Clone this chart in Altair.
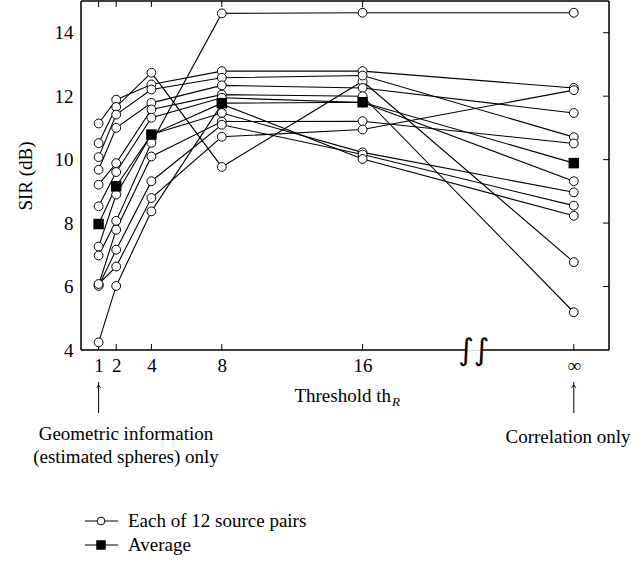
import altair as alt
import pandas as pd

FONT = "Liberation Serif"
FS = 19

# x positions of the thresholds (infinity drawn at 28 after an axis break)
x_pos = [1, 2, 4, 8, 16, 28]
x_labels = ["1", "2", "4", "8", "16", "∞"]
y_ticks = [4, 6, 8, 10, 12, 14]

# SIR (dB) for each of 12 source pairs at thresholds 1, 2, 4, 8, 16, inf
p1 = [11.14, 11.89, 12.37, 12.79, 12.79, 12.26]
p2 = [10.52, 11.66, 12.74, 9.77, 12.47, 6.77]
p3 = [10.08, 11.42, 12.21, 12.58, 12.65, 10.71]
p4 = [9.68, 11.00, 11.79, 12.34, 12.26, 11.47]
p5 = [9.21, 9.89, 11.58, 12.05, 12.00, 5.19]
p6 = [8.53, 9.61, 11.32, 11.95, 11.80, 9.32]
p7 = [7.26, 8.90, 10.79, 11.47, 10.23, 8.97]
p8 = [6.98, 8.07, 10.53, 14.61, 14.63, 14.63]
p9 = [6.05, 7.79, 10.10, 11.20, 11.21, 10.51]
p10 = [6.02, 7.16, 9.32, 11.10, 10.16, 8.55]
p11 = [6.08, 6.63, 8.79, 10.72, 10.95, 12.19]
p12 = [4.24, 6.02, 8.37, 11.75, 10.02, 8.23]
average = [7.97, 9.16, 10.79, 11.78, 11.81, 9.89]

pairs = [p1, p2, p3, p4, p5, p6, p7, p8, p9, p10, p11, p12]
rows = []
for i, s in enumerate(pairs):
    for xv, yv in zip(x_pos, s):
        rows.append({"pair": f"pair {i + 1}", "x": xv, "y": yv})
df = pd.DataFrame(rows)
avg_df = pd.DataFrame({"x": x_pos, "y": average})

XD = [0, 30]
YD = [4, 15]
W, H = 528, 349

x_axis = alt.Axis(values=x_pos, labelExpr="datum.value == 28 ? '∞' : datum.label",
                  ticks=False, domain=False, grid=False, title=None,
                  labelFont=FONT, labelFontSize=FS, labelColor="black", labelPadding=6)
y_axis = alt.Axis(values=y_ticks, ticks=False, domain=False, grid=False,
                  title="SIR (dB)", titleFont=FONT, titleFontSize=FS, titleFontWeight="normal",
                  titleColor="black", titlePadding=19,
                  labelFont=FONT, labelFontSize=FS, labelColor="black", labelPadding=8)


def X(field="x"):
    return alt.X(f"{field}:Q", scale=alt.Scale(domain=XD, nice=False, zero=False), axis=x_axis)


def Y(field="y"):
    return alt.Y(f"{field}:Q", scale=alt.Scale(domain=YD, nice=False, zero=False), axis=y_axis)


lines = alt.Chart(df).mark_line(color="black", strokeWidth=1.1).encode(
    x=X(), y=Y(), detail="pair:N", order="x:Q")
points = alt.Chart(df).mark_point(shape="circle", filled=True, fill="white", stroke="black",
                                   strokeWidth=1, size=78, opacity=1).encode(x=X(), y=Y())
avg_line = alt.Chart(avg_df).mark_line(color="black", strokeWidth=1.1).encode(x=X(), y=Y())
avg_pts = alt.Chart(avg_df).mark_square(color="black", size=110, opacity=1).encode(x=X(), y=Y())

# frame with axis break
frame_df = pd.DataFrame({
    "x": [0, 30, 0, 0, 22.75],
    "x2": [0, 30, 30, 21.9, 30],
    "y": [4, 4, 15, 4, 4],
    "y2": [15, 15, 15, 4, 4],
})
frame = alt.Chart(frame_df).mark_rule(color="black", strokeWidth=1.5).encode(
    x=X(), x2="x2:Q", y=Y(), y2="y2:Q")

break_df = pd.DataFrame({"x": [22.32], "y": [4], "t": ["∫∫"]})
breaks = alt.Chart(break_df).mark_text(font="DejaVu Sans", fontSize=30, color="black",
                                       baseline="middle", dy=1).encode(x=X(), y=Y(), text="t:N")

bt_df = pd.DataFrame({"x": x_pos})
bottom_ticks = alt.Chart(bt_df).mark_rule(color="black", strokeWidth=1).encode(
    x=X(), y=alt.value(H), y2=alt.value(H - 6))
tt_df = pd.DataFrame({"x": x_pos[:5]})
top_ticks = alt.Chart(tt_df).mark_rule(color="black", strokeWidth=1).encode(
    x=X(), y=alt.value(0), y2=alt.value(6))
rt_df = pd.DataFrame({"y": y_ticks[1:]})
right_ticks = alt.Chart(rt_df).mark_rule(color="black", strokeWidth=1).encode(
    y=Y(), x=alt.value(W), x2=alt.value(W - 6))

# annotation arrows
arrow_df = pd.DataFrame({"x": [1, 28]})
arrow_shaft = alt.Chart(arrow_df).mark_rule(color="black", strokeWidth=1).encode(
    x=X(), y=alt.value(381), y2=alt.value(412))
arrow_head = alt.Chart(arrow_df).mark_point(shape="M -0.5 0.7 L 0 0 L 0.5 0.7", filled=False,
                                             stroke="black", strokeWidth=1, size=60, opacity=1).encode(
    x=X(), y=alt.value(384))


def text_layer(txt, px, py, align="center", size=FS, style="normal", baseline="middle"):
    d = pd.DataFrame({"t": [txt]})
    return alt.Chart(d).mark_text(font=FONT, fontSize=size, fontStyle=style, color="black",
                                  align=align, baseline=baseline).encode(
        x=alt.value(px), y=alt.value(py), text="t:N")


title1 = text_layer("Threshold th", 310, 401, align="right", baseline="alphabetic")
title2 = text_layer("R", 311, 405, align="left", size=13, style="italic", baseline="alphabetic")
ann1 = text_layer("Geometric information", 45, 433)
ann2 = text_layer("(estimated spheres) only", 45, 456)
ann3 = text_layer("Correlation only", 487, 436)

# legend
LY1, LY2 = 520, 544
leg_line1 = alt.Chart(pd.DataFrame({"k": ["pairs"]})).mark_rule(color="black", strokeWidth=1).encode(
    x=alt.value(4), x2=alt.value(37), y=alt.value(LY1))
leg_line2 = alt.Chart(pd.DataFrame({"k": ["avg"]})).mark_rule(color="black", strokeWidth=1).encode(
    x=alt.value(4), x2=alt.value(37), y=alt.value(LY2))
leg_circle = alt.Chart(pd.DataFrame({"k": ["pairs"]})).mark_point(
    shape="circle", filled=True, fill="white", stroke="black", strokeWidth=1, size=60, opacity=1).encode(
    x=alt.value(20), y=alt.value(LY1))
leg_square = alt.Chart(pd.DataFrame({"k": ["avg"]})).mark_square(color="black", size=90, opacity=1).encode(
    x=alt.value(20), y=alt.value(LY2))
leg_t1 = text_layer("Each of 12 source pairs", 47, LY1, align="left")
leg_t2 = text_layer("Average", 47, LY2, align="left")

chart = alt.layer(
    frame, bottom_ticks, top_ticks, right_ticks, breaks,
    lines, avg_line, points, avg_pts,
    arrow_shaft, arrow_head, title1, title2, ann1, ann2, ann3,
    leg_line1, leg_line2, leg_circle, leg_square, leg_t1, leg_t2,
).properties(
    width=W, height=H,
    padding={"left": 81, "top": 1, "right": 34, "bottom": 212},
    autosize=alt.AutoSizeParams(type="none"),
).configure_view(stroke=None).configure(background="white")

chart.save("out.html", embed_options={"renderer": "svg", "actions": False})
